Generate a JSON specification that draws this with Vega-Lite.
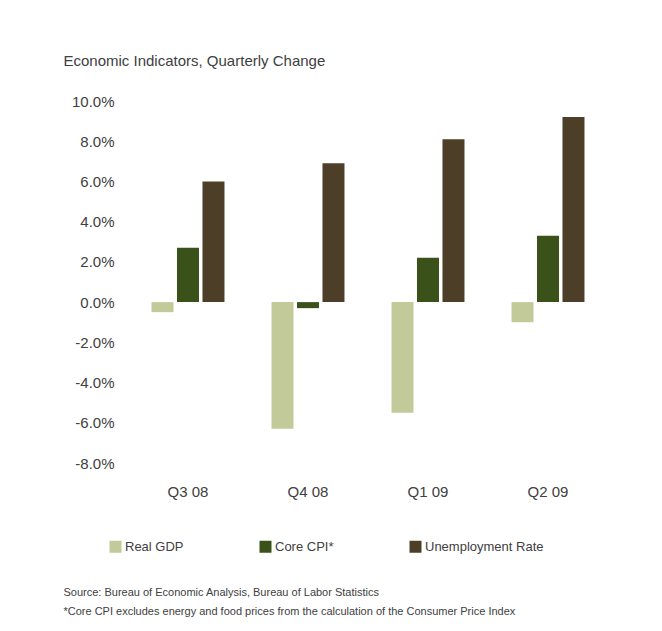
{
  "$schema": "https://vega.github.io/schema/vega-lite/v6.json",
  "padding": {"left": 63, "top": 54, "right": 10, "bottom": 10},
  "background": "white",
  "config": {
    "font": "Liberation Sans",
    "view": {"stroke": null},
    "axis": {"labelFont": "Liberation Sans", "labelColor": "#404040", "labelFontSize": 15, "domain": false, "ticks": false, "grid": false}
  },
  "title": {
    "text": ["Source: Bureau of Economic Analysis, Bureau of Labor Statistics", "*Core CPI excludes energy and food prices from the calculation of the Consumer Price Index"],
    "orient": "bottom", "anchor": "start", "fontSize": 11, "fontWeight": "normal", "color": "#404040", "lineHeight": 19, "offset": 33, "font": "Liberation Sans"
  },
  "vconcat": [
    {
      "title": {"text": "Economic Indicators, Quarterly Change", "anchor": "start", "frame": "bounds", "dx": -8, "fontSize": 15, "fontWeight": "normal", "color": "#404040", "baseline": "alphabetic", "offset": 13, "font": "Liberation Sans"},
      "width": 480,
      "height": 362,
      "data": {"values": [
        {"quarter": "Q3 08", "series": "Real GDP", "value": -0.5},
        {"quarter": "Q3 08", "series": "Core CPI*", "value": 2.7},
        {"quarter": "Q3 08", "series": "Unemployment Rate", "value": 6.0},
        {"quarter": "Q4 08", "series": "Real GDP", "value": -6.3},
        {"quarter": "Q4 08", "series": "Core CPI*", "value": -0.3},
        {"quarter": "Q4 08", "series": "Unemployment Rate", "value": 6.9},
        {"quarter": "Q1 09", "series": "Real GDP", "value": -5.5},
        {"quarter": "Q1 09", "series": "Core CPI*", "value": 2.2},
        {"quarter": "Q1 09", "series": "Unemployment Rate", "value": 8.1},
        {"quarter": "Q2 09", "series": "Real GDP", "value": -1.0},
        {"quarter": "Q2 09", "series": "Core CPI*", "value": 3.3},
        {"quarter": "Q2 09", "series": "Unemployment Rate", "value": 9.2}
      ]},
      "mark": {"type": "bar"},
      "encoding": {
        "x": {"field": "quarter", "type": "nominal", "sort": null,
          "scale": {"paddingInner": 0.392, "paddingOuter": 0.196},
          "axis": {"labelAngle": 0, "labelPadding": 21, "title": null}},
        "xOffset": {"field": "series", "type": "nominal", "sort": ["Real GDP", "Core CPI*", "Unemployment Rate"],
          "scale": {"paddingInner": 0.137, "paddingOuter": 0}},
        "y": {"field": "value", "type": "quantitative",
          "scale": {"domain": [-8, 10], "nice": false},
          "axis": {"values": [-8, -6, -4, -2, 0, 2, 4, 6, 8, 10], "labelExpr": "(datum.value < 0 ? '-' : '') + format(abs(datum.value), '.1f') + '%'", "labelPadding": 14, "title": null}},
        "color": {"field": "series", "type": "nominal",
          "scale": {"domain": ["Real GDP", "Core CPI*", "Unemployment Rate"], "range": ["#C3CA9A", "#3A521A", "#4D3E28"]},
          "legend": {"title": null, "orient": "none", "legendX": -19, "legendY": 439, "direction": "horizontal", "columns": 3, "gridAlign": "all", "columnPadding": 15, "symbolType": "square", "symbolSize": 144, "symbolStrokeWidth": 0, "labelFontSize": 13, "labelOffset": 3, "labelColor": "#404040", "labelFont": "Liberation Sans", "padding": 0}}
      }
    }
  ],
  "resolve": {"legend": {"color": "independent"}}
}
